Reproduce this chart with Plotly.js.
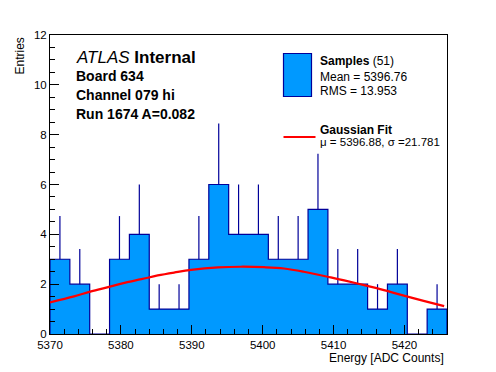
<!DOCTYPE html>
<html>
<head>
<meta charset="utf-8">
<script src="https://cdn.plot.ly/plotly-3.0.1.min.js"></script>
<style>
html,body{margin:0;padding:0;background:#fff;}
#chart{width:496px;height:372px;}
</style>
</head>
<body>
<div id="chart"></div>
<script>
// Histogram bins (lower edges) and counts
var binLow = [5370.0, 5372.8, 5375.6, 5378.4, 5381.2, 5384.0, 5386.8, 5389.6, 5392.4, 5395.2,
              5398.0, 5400.8, 5403.6, 5406.4, 5409.2, 5412.0, 5414.8, 5417.6, 5420.4, 5423.2];
var binHigh = 5426.0;
var counts = [3, 2, 0, 3, 4, 1, 1, 3, 6, 4, 4, 3, 3, 5, 2, 2, 1, 2, 0, 1];

// Gaussian fit curve
var fitX = [5370.0, 5373.4, 5375.8, 5378.2, 5380.5, 5382.9, 5385.2, 5387.6, 5389.9, 5393.7, 5396.9,
            5400.2, 5403.0, 5405.8, 5409.6, 5411.5, 5414.3, 5417.1, 5419.0, 5422.7, 5425.6];
var fitY = [1.27, 1.51, 1.71, 1.88, 2.05, 2.20, 2.35, 2.47, 2.57, 2.67, 2.70,
            2.68, 2.63, 2.50, 2.27, 2.15, 1.96, 1.76, 1.61, 1.33, 1.12];

// Text
var xTickVals = [5370, 5380, 5390, 5400, 5410, 5420];
var yTickVals = [0, 2, 4, 6, 8, 10, 12];
var labelLines = ["Board 634", "Channel 079 hi", "Run 1674 A=0.082"];
var legendSamples = ["<b>Samples</b> (51)", "Mean = 5396.76", "RMS = 13.953"];
var legendFit = ["<b>Gaussian Fit</b>", "\u03bc = 5396.88, \u03c3 =21.781"];

var FILL = '#0099ff', EDGE = '#000099', RED = '#ff0000';
var FONT = 'Liberation Sans, Arial, Helvetica, sans-serif';

// outline / fill path (step)
var stepX = [binLow[0]], stepY = [0];
for (var i = 0; i < counts.length; i++) { stepX.push(binLow[i]); stepY.push(counts[i]); }
stepX.push(binHigh); stepY.push(counts[counts.length - 1]);
stepX.push(binHigh); stepY.push(0);

var centers = [], errUp = [], errDn = [];
for (var j = 0; j < counts.length; j++) {
  var hi = (j + 1 < binLow.length) ? binLow[j + 1] : binHigh;
  centers.push((binLow[j] + hi) / 2);
  errUp.push(Math.sqrt(counts[j]));
  errDn.push(0);
}

var traces = [
  {x: stepX, y: stepY, type: 'scatter', mode: 'lines', line: {shape: 'hv', color: EDGE, width: 1.2},
   fill: 'tozeroy', fillcolor: FILL, hoverinfo: 'skip'},
  {x: centers, y: counts, type: 'scatter', mode: 'markers',
   marker: {size: 1, color: 'rgba(0,0,0,0)'},
   error_y: {type: 'data', symmetric: false, array: errUp, arrayminus: errDn, color: EDGE, thickness: 1.2, width: 0}},
  {x: fitX, y: fitY, type: 'scatter', mode: 'lines', line: {color: RED, width: 2.2, shape: 'spline'}}
];

// plot area in pixels
var L = 50, R = 447, T = 35, B = 334;
function px(x) { return (x - L) / (R - L); }
function py(y) { return (B - y) / (B - T); }

var ann = [];
ann.push({xref: 'paper', yref: 'paper', x: px(74), y: py(58), xanchor: 'left', yanchor: 'middle', showarrow: false,
  text: '<i>ATLAS</i> <b>Internal</b>', font: {family: FONT, size: 17, color: '#000'}});
var lineY = [76, 95, 114];
for (var k = 0; k < labelLines.length; k++) {
  ann.push({xref: 'paper', yref: 'paper', x: px(74), y: py(lineY[k]), xanchor: 'left', yanchor: 'middle', showarrow: false,
    text: '<b>' + labelLines[k] + '</b>', font: {family: FONT, size: 14, color: '#000'}});
}
var legY1 = [61, 77, 90.5];
for (var m = 0; m < legendSamples.length; m++) {
  ann.push({xref: 'paper', yref: 'paper', x: px(317.5), y: py(legY1[m]), xanchor: 'left', yanchor: 'middle', showarrow: false,
    text: legendSamples[m], font: {family: FONT, size: 12, color: '#000'}});
}
var legY2 = [130, 142];
var legSize = [12, 11.5];
for (var n = 0; n < legendFit.length; n++) {
  ann.push({xref: 'paper', yref: 'paper', x: px(317.5), y: py(legY2[n]), xanchor: 'left', yanchor: 'middle', showarrow: false,
    text: legendFit[n], font: {family: FONT, size: legSize[n], color: '#000'}});
}
// axis titles
ann.push({xref: 'paper', yref: 'paper', x: px(446), y: py(357.5), xanchor: 'right', yanchor: 'middle', showarrow: false,
  text: 'Energy [ADC Counts]', font: {family: FONT, size: 12, color: '#000'}});
ann.push({xref: 'paper', yref: 'paper', x: px(19), y: py(36), xanchor: 'center', yanchor: 'top', showarrow: false,
  textangle: -90, text: 'Entries', font: {family: FONT, size: 12, color: '#000'}});

var shapes = [
  {type: 'rect', xref: 'paper', yref: 'paper', x0: px(283.5), x1: px(311.5), y0: py(53.5), y1: py(96.5),
   fillcolor: FILL, line: {color: EDGE, width: 1.2}},
  {type: 'line', xref: 'paper', yref: 'paper', x0: px(283.5), x1: px(315.5), y0: py(137), y1: py(137),
   line: {color: RED, width: 2.2}}
];

var layout = {
  width: 496, height: 372,
  margin: {l: L, r: 496 - R, t: T, b: 372 - B, pad: 0},
  paper_bgcolor: '#fff', plot_bgcolor: '#fff',
  showlegend: false,
  font: {family: FONT, size: 12, color: '#000'},
  xaxis: {range: [binLow[0], binHigh], tickmode: 'array', tickvals: xTickVals, ticktext: xTickVals.map(String),
    ticks: 'inside', ticklen: 9, tickwidth: 1, tickcolor: '#000',
    minor: {dtick: 2, tick0: 5370, ticks: 'inside', ticklen: 5, tickcolor: '#000', showgrid: false},
    showline: true, linecolor: '#000', linewidth: 1, mirror: true, showgrid: false, zeroline: false,
    tickfont: {family: FONT, size: 11.5, color: '#000'}},
  yaxis: {range: [0, 12], tickmode: 'array', tickvals: yTickVals, ticktext: yTickVals.map(String),
    ticks: 'inside', ticklen: 9, tickwidth: 1, tickcolor: '#000',
    minor: {dtick: 0.5, tick0: 0, ticks: 'inside', ticklen: 5, tickcolor: '#000', showgrid: false},
    showline: true, linecolor: '#000', linewidth: 1, mirror: true, showgrid: false, zeroline: false,
    tickfont: {family: FONT, size: 11.5, color: '#000'}},
  annotations: ann,
  shapes: shapes
};

Plotly.newPlot('chart', traces, layout, {displayModeBar: false, staticPlot: true});
</script>
</body>
</html>
